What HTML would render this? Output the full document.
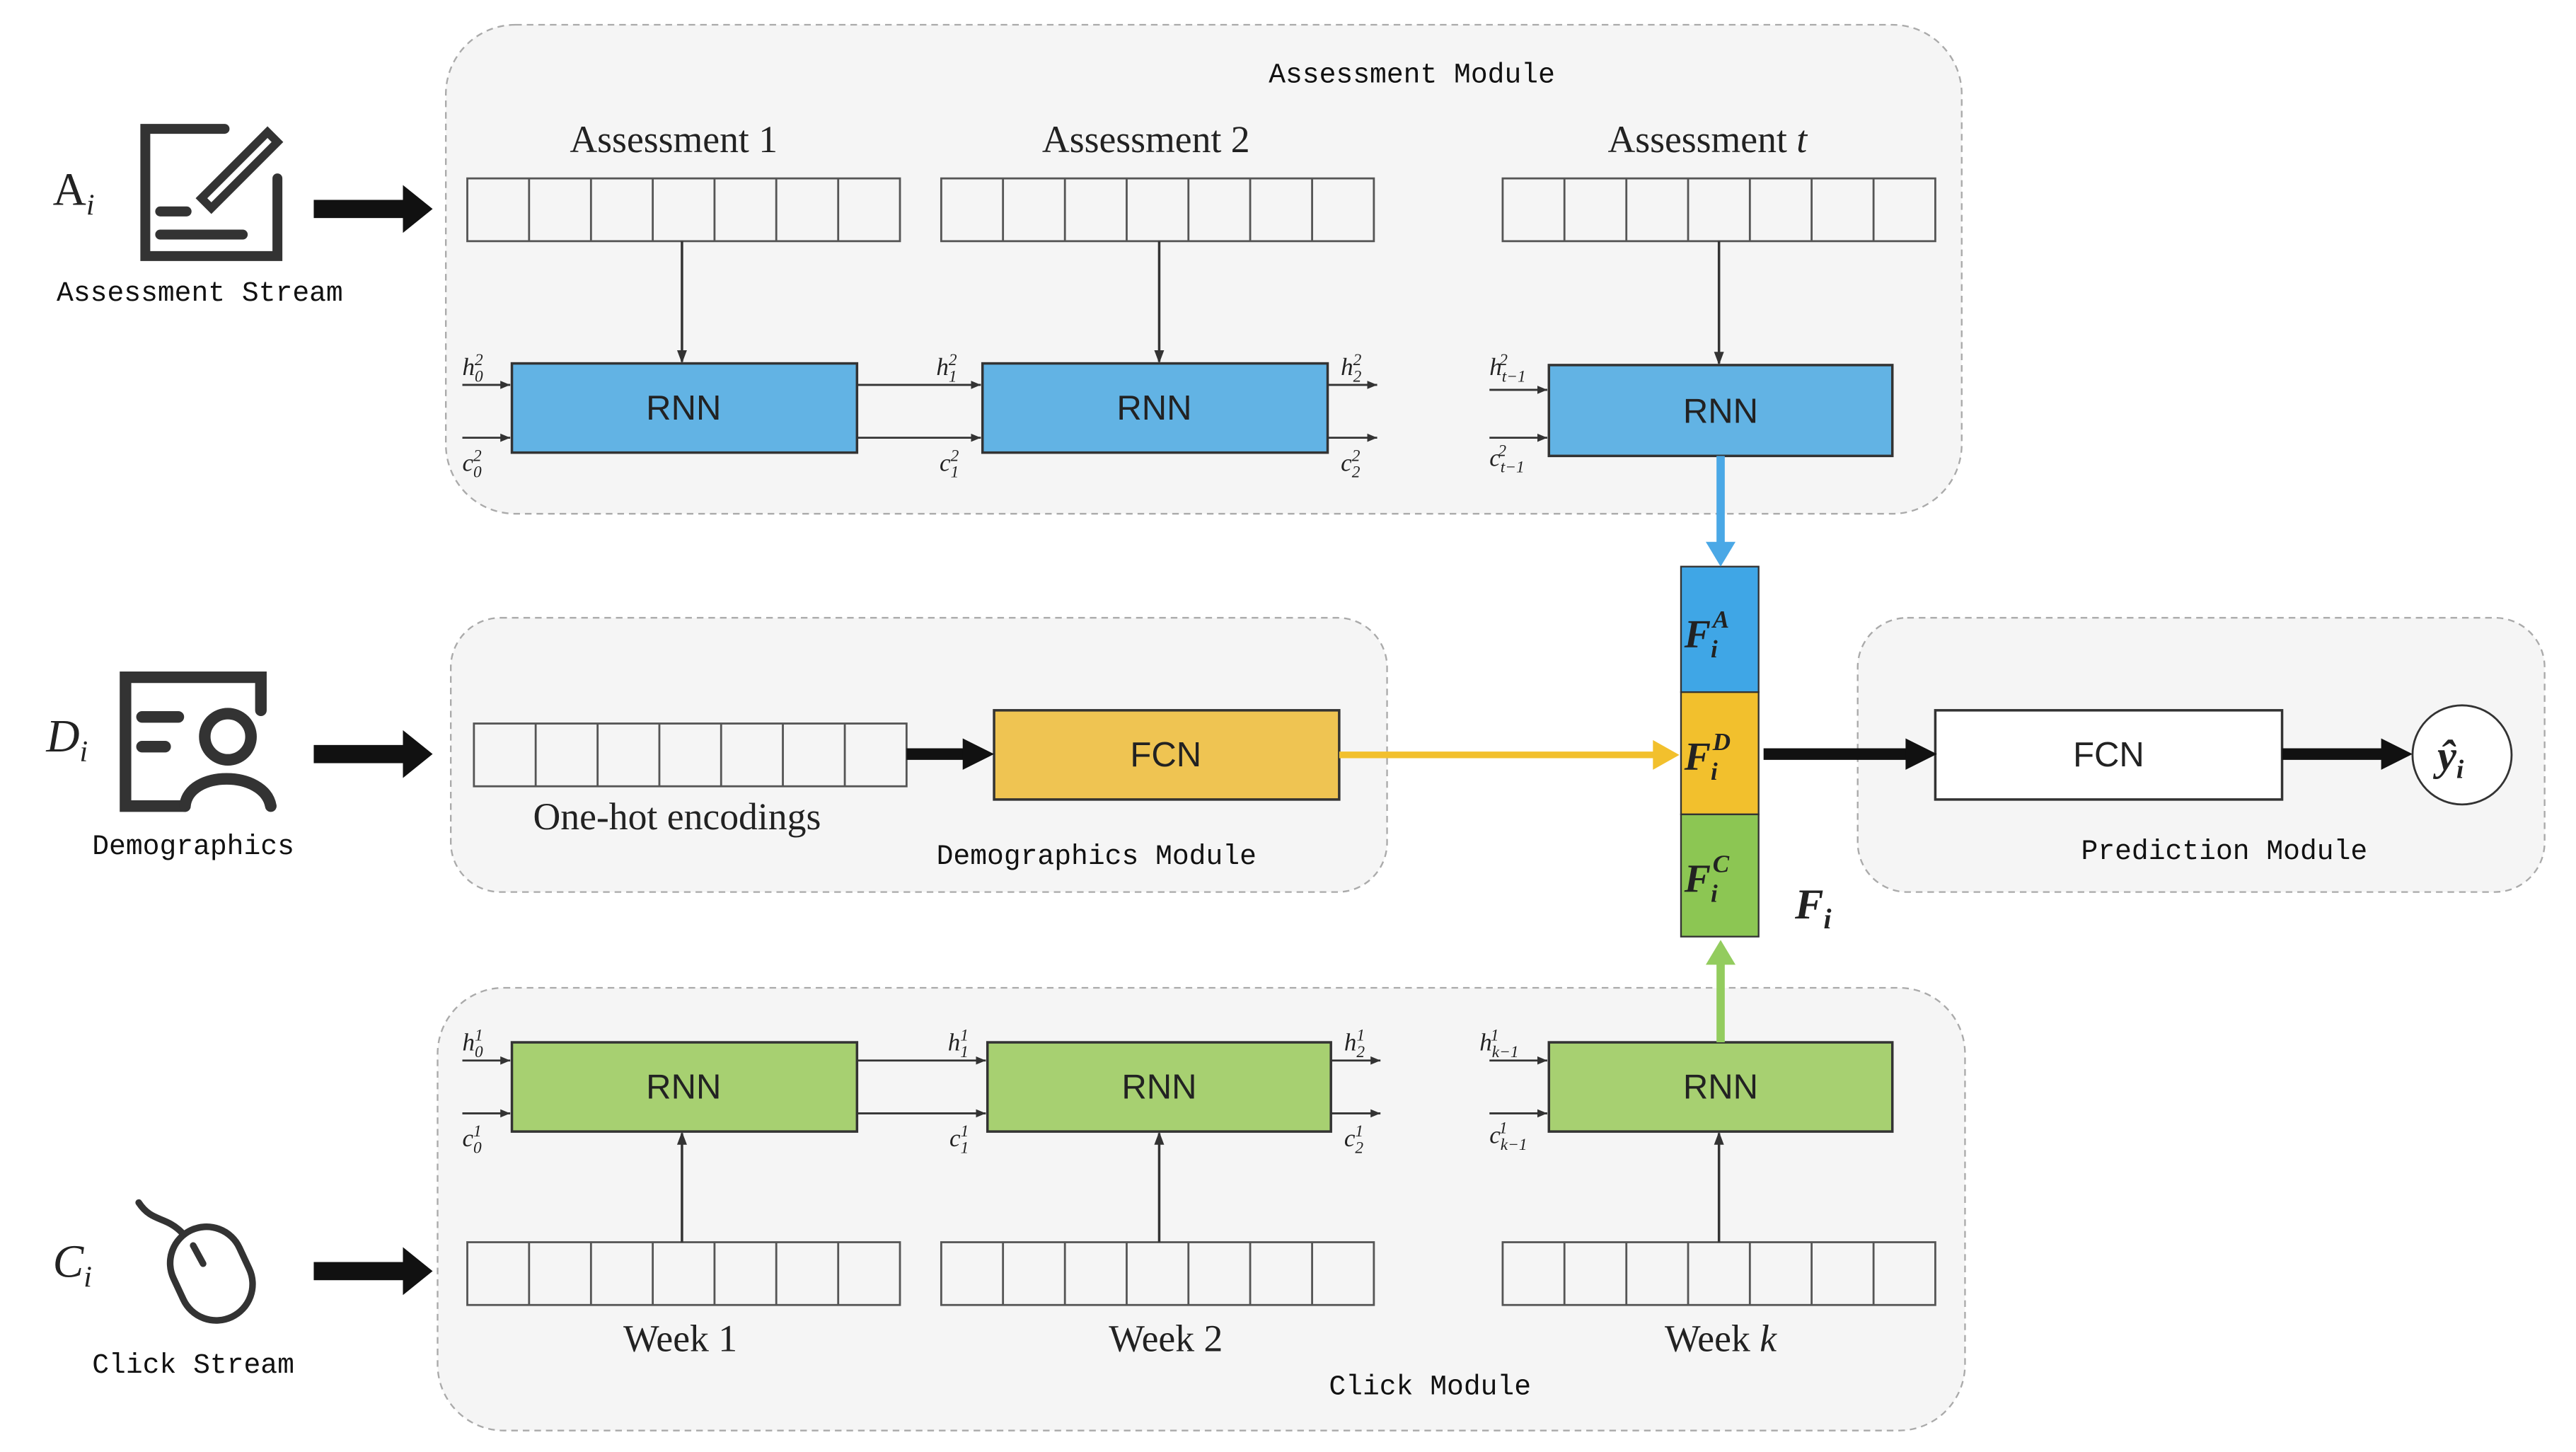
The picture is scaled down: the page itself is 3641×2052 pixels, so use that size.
<!DOCTYPE html>
<html><head><meta charset="utf-8"><style>
html,body{margin:0;padding:0;background:#fff;}
svg{display:block;}
.mono{font-family:"Liberation Mono",monospace;font-size:17px;fill:#111;}
.serif{font-family:"Liberation Serif",serif;fill:#222;}
.sans{font-family:"Liberation Sans",sans-serif;fill:#222;}
</style></head><body>
<svg width="3641" height="2052" viewBox="0 0 1560 879" preserveAspectRatio="none" xmlns="http://www.w3.org/2000/svg">
<defs>
<marker id="ah" markerWidth="8" markerHeight="8" refX="7" refY="4" orient="auto" markerUnits="userSpaceOnUse"><path d="M0,1 L8,4 L0,7 z" fill="#333"/></marker>
<marker id="ahs" markerWidth="6" markerHeight="6" refX="6" refY="3" orient="auto" markerUnits="userSpaceOnUse"><path d="M0,0.5 L6,3 L0,5.5 z" fill="#333"/></marker>
<g id="arr"><rect x="0" y="0" width="262" height="38" fill="#f5f5f5" stroke="#555" stroke-width="1.2"/><path d="M37.4,0v38M74.9,0v38M112.3,0v38M149.7,0v38M187.1,0v38M224.6,0v38" fill="none" stroke="#555" stroke-width="1.2"/></g>
</defs>
<!-- module boxes -->
<rect x="270" y="15" width="918" height="296" rx="42" fill="#f5f5f5" stroke="#aaa" stroke-dasharray="4,3"/>
<rect x="273" y="374" width="567" height="166" rx="30" fill="#f5f5f5" stroke="#aaa" stroke-dasharray="4,3"/>
<rect x="1125" y="374" width="416" height="166" rx="30" fill="#f5f5f5" stroke="#aaa" stroke-dasharray="4,3"/>
<rect x="265" y="598" width="925" height="268" rx="40" fill="#f5f5f5" stroke="#aaa" stroke-dasharray="4,3"/>

<text class="mono" x="855" y="50" text-anchor="middle">Assessment Module</text>
<text class="mono" x="664" y="523" text-anchor="middle">Demographics Module</text>
<text class="mono" x="1347" y="520" text-anchor="middle">Prediction Module</text>
<text class="mono" x="866" y="844" text-anchor="middle">Click Module</text>

<use href="#arr" x="283" y="108"/><use href="#arr" x="570" y="108"/><use href="#arr" x="910" y="108"/>
<use href="#arr" x="287" y="438"/>
<use href="#arr" x="283" y="752"/><use href="#arr" x="570" y="752"/><use href="#arr" x="910" y="752"/>

<g class="serif" font-size="23" text-anchor="middle">
<text x="408" y="92">Assessment 1</text>
<text x="694" y="92">Assessment 2</text>
<text x="1034" y="92">Assessment <tspan font-style="italic">t</tspan></text>
<text x="410" y="502">One-hot encodings</text>
<text x="412" y="818">Week 1</text>
<text x="706" y="818">Week 2</text>
<text x="1042" y="818">Week <tspan font-style="italic">k</tspan></text>
</g>

<g stroke="#333" stroke-width="1.5">
<rect x="310" y="220" width="209" height="54" fill="#62b3e4"/>
<rect x="595" y="220" width="209" height="54" fill="#62b3e4"/>
<rect x="938" y="221" width="208" height="55" fill="#62b3e4"/>
<rect x="310" y="631" width="209" height="54" fill="#a7d071"/>
<rect x="598" y="631" width="208" height="54" fill="#a7d071"/>
<rect x="938" y="631" width="208" height="54" fill="#a7d071"/>
<rect x="602" y="430" width="209" height="54" fill="#efc452"/>
<rect x="1172" y="430" width="210" height="54" fill="#fff"/>
</g>
<g class="sans" font-size="21" text-anchor="middle">
<text x="414" y="254">RNN</text><text x="699" y="254">RNN</text><text x="1042" y="256">RNN</text>
<text x="414" y="665">RNN</text><text x="702" y="665">RNN</text><text x="1042" y="665">RNN</text>
<text x="706" y="464">FCN</text><text x="1277" y="464">FCN</text>
</g>

<g stroke="#333" stroke-width="1.5" marker-end="url(#ah)">
<line x1="413" y1="146" x2="413" y2="219"/>
<line x1="702" y1="146" x2="702" y2="219"/>
<line x1="1041" y1="146" x2="1041" y2="220"/>
<line x1="413" y1="752" x2="413" y2="686"/>
<line x1="702" y1="752" x2="702" y2="686"/>
<line x1="1041" y1="752" x2="1041" y2="686"/>
</g>
<g stroke="#333" stroke-width="1.2" marker-end="url(#ahs)">
<line x1="280" y1="233" x2="309" y2="233"/><line x1="280" y1="265" x2="309" y2="265"/>
<line x1="519" y1="233" x2="594" y2="233"/><line x1="519" y1="265" x2="594" y2="265"/>
<line x1="804" y1="233" x2="834" y2="233"/><line x1="804" y1="265" x2="834" y2="265"/>
<line x1="902" y1="236" x2="937" y2="236"/><line x1="902" y1="265" x2="937" y2="265"/>
<line x1="280" y1="642" x2="309" y2="642"/><line x1="280" y1="674" x2="309" y2="674"/>
<line x1="519" y1="642" x2="597" y2="642"/><line x1="519" y1="674" x2="597" y2="674"/>
<line x1="806" y1="642" x2="836" y2="642"/><line x1="806" y1="674" x2="836" y2="674"/>
<line x1="902" y1="642" x2="937" y2="642"/><line x1="902" y1="674" x2="937" y2="674"/>
</g>
<g class="serif" font-size="15" font-style="italic">
<text x="280" y="227">h<tspan font-size="10" dy="4">0</tspan><tspan font-size="10" dx="-5" dy="-10">2</tspan></text>
<text x="280" y="285">c<tspan font-size="10" dy="4">0</tspan><tspan font-size="10" dx="-5" dy="-10">2</tspan></text>
<text x="567" y="227">h<tspan font-size="10" dy="4">1</tspan><tspan font-size="10" dx="-5" dy="-10">2</tspan></text>
<text x="569" y="285">c<tspan font-size="10" dy="4">1</tspan><tspan font-size="10" dx="-5" dy="-10">2</tspan></text>
<text x="812" y="227">h<tspan font-size="10" dy="4">2</tspan><tspan font-size="10" dx="-5" dy="-10">2</tspan></text>
<text x="812" y="285">c<tspan font-size="10" dy="4">2</tspan><tspan font-size="10" dx="-5" dy="-10">2</tspan></text>
<text x="902" y="227">h<tspan font-size="10" dy="4">t−1</tspan><tspan font-size="10" dx="-16" dy="-10">2</tspan></text>
<text x="902" y="282">c<tspan font-size="10" dy="4">t−1</tspan><tspan font-size="10" dx="-16" dy="-10">2</tspan></text>
<text x="280" y="636">h<tspan font-size="10" dy="4">0</tspan><tspan font-size="10" dx="-5" dy="-10">1</tspan></text>
<text x="280" y="694">c<tspan font-size="10" dy="4">0</tspan><tspan font-size="10" dx="-5" dy="-10">1</tspan></text>
<text x="574" y="636">h<tspan font-size="10" dy="4">1</tspan><tspan font-size="10" dx="-5" dy="-10">1</tspan></text>
<text x="575" y="694">c<tspan font-size="10" dy="4">1</tspan><tspan font-size="10" dx="-5" dy="-10">1</tspan></text>
<text x="814" y="636">h<tspan font-size="10" dy="4">2</tspan><tspan font-size="10" dx="-5" dy="-10">1</tspan></text>
<text x="814" y="694">c<tspan font-size="10" dy="4">2</tspan><tspan font-size="10" dx="-5" dy="-10">1</tspan></text>
<text x="896" y="636">h<tspan font-size="10" dy="4">k−1</tspan><tspan font-size="10" dx="-17" dy="-10">1</tspan></text>
<text x="902" y="692">c<tspan font-size="10" dy="4">k−1</tspan><tspan font-size="10" dx="-17" dy="-10">1</tspan></text>
</g>

<rect x="1018" y="343" width="47" height="76" fill="#3fa6e6" stroke="#333"/>
<rect x="1018" y="419" width="47" height="74" fill="#f2c02d" stroke="#333"/>
<rect x="1018" y="493" width="47" height="74" fill="#8cc653" stroke="#333"/>
<g class="serif" font-size="24" font-style="italic" font-weight="bold" fill="#111">
<text x="1020" y="392">F<tspan font-size="15" dy="6">i</tspan><tspan font-size="15" dx="-3" dy="-18">A</tspan></text>
<text x="1020" y="466">F<tspan font-size="15" dy="6">i</tspan><tspan font-size="15" dx="-3" dy="-18">D</tspan></text>
<text x="1020" y="540">F<tspan font-size="15" dy="6">i</tspan><tspan font-size="15" dx="-3" dy="-18">C</tspan></text>
<text x="1087" y="556" font-size="26">F<tspan font-size="17" dy="6">i</tspan></text>
</g>

<line x1="1042" y1="276" x2="1042" y2="330" stroke="#4aa8e6" stroke-width="5"/>
<path d="M1033,328 L1051,328 L1042,343 z" fill="#4aa8e6"/>
<line x1="1042" y1="631" x2="1042" y2="582" stroke="#93cc5e" stroke-width="5"/>
<path d="M1033,584 L1051,584 L1042,569 z" fill="#93cc5e"/>
<line x1="811" y1="457" x2="1003" y2="457" stroke="#f2c02d" stroke-width="4"/>
<path d="M1001,448 L1017,457 L1001,466 z" fill="#f2c02d"/>

<g fill="#111">
<rect x="549" y="453" width="36" height="7"/><path d="M583,447 L602,456.5 L583,466 z"/>
<rect x="1068" y="453" width="88" height="7"/><path d="M1154,447 L1173,456.5 L1154,466 z"/>
<rect x="1382" y="453" width="62" height="7"/><path d="M1442,447 L1461,456.5 L1442,466 z"/>
<rect x="190" y="121" width="56" height="11"/><path d="M244,112 L262,126.5 L244,141 z"/>
<rect x="190" y="451" width="56" height="11"/><path d="M244,442 L262,456.5 L244,471 z"/>
<rect x="190" y="764" width="56" height="11"/><path d="M244,755 L262,769.5 L244,784 z"/>
</g>
<circle cx="1491" cy="457" r="30" fill="#fff" stroke="#333" stroke-width="1.2"/>
<text class="serif" x="1476" y="466" font-size="26" font-style="italic" font-weight="bold" fill="#111">ŷ<tspan font-size="16" dy="5">i</tspan></text>

<text class="serif" x="32" y="124" font-size="28" fill="#111">A<tspan font-size="18" font-style="italic" dy="6">i</tspan></text>
<text class="serif" x="28" y="455" font-size="28" font-style="italic" fill="#111">D<tspan font-size="18" dy="6">i</tspan></text>
<text class="serif" x="32" y="773" font-size="28" font-style="italic" fill="#111">C<tspan font-size="18" dy="6">i</tspan></text>
<text class="mono" x="121" y="182" text-anchor="middle">Assessment Stream</text>
<text class="mono" x="117" y="517" text-anchor="middle">Demographics</text>
<text class="mono" x="117" y="831" text-anchor="middle">Click Stream</text>

<g stroke="#333" stroke-width="6" fill="none" stroke-linecap="round">
<path d="M136,78 H88 V155 H168 V108"/>
<line x1="97" y1="142" x2="147" y2="142"/>
<line x1="97" y1="128" x2="113" y2="128"/>
<path d="M122,120 L162,80 L168,86 L128,126 z" stroke-width="5"/>
</g>
<g stroke="#333" stroke-width="7" fill="none" stroke-linecap="round">
<path d="M112,488 H76 V410 H158 V430"/>
<line x1="86" y1="434" x2="108" y2="434"/>
<line x1="86" y1="452" x2="100" y2="452"/>
<circle cx="138" cy="446" r="14"/>
<path d="M112,488 C114,466 160,466 164,488"/>
</g>
<g stroke="#333" stroke-width="4" fill="none" stroke-linecap="round">
<rect x="106" y="742" width="44" height="58" rx="22" transform="rotate(-25 128 771)"/>
<line x1="117" y1="754" x2="123" y2="765"/>
<path d="M84,728 C92,740 100,736 110,746"/>
</g>
</svg>
</body></html>
